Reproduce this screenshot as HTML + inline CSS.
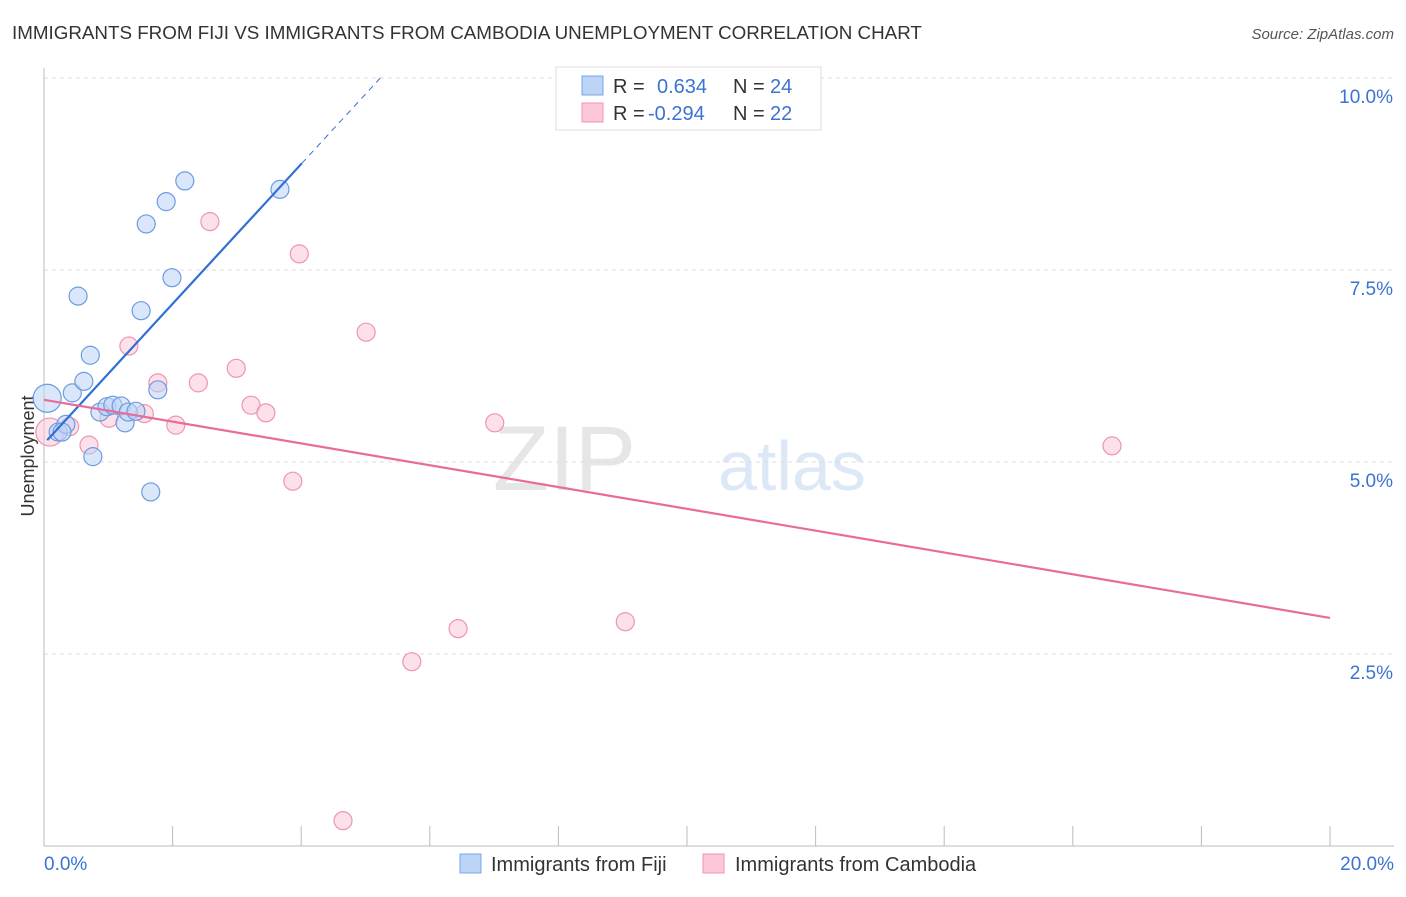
<!DOCTYPE html>
<html><head><meta charset="utf-8"><style>
body{margin:0;background:#fff;font-family:"Liberation Sans",sans-serif;}
svg text{font-family:"Liberation Sans",sans-serif;}
</style></head><body>
<svg id="chart" width="1406" height="892" viewBox="0 0 1406 892" xmlns="http://www.w3.org/2000/svg">
<text x="12" y="39" font-size="18.8" fill="#333">IMMIGRANTS FROM FIJI VS IMMIGRANTS FROM CAMBODIA UNEMPLOYMENT CORRELATION CHART</text>
<text x="1394" y="39" font-size="15" fill="#555" text-anchor="end" font-style="italic">Source: ZipAtlas.com</text>
<text x="636" y="490" font-size="92" fill="#e6e6e6" text-anchor="end" font-family="Liberation Serif">ZIP</text>
<text x="718" y="490" font-size="70" fill="#dde8f7">atlas</text>
<text transform="translate(34,456) rotate(-90)" font-size="18" fill="#333" text-anchor="middle">Unemployment</text>
<g id="grid"></g><g id="axes"></g><g id="marks"></g>
<g>
<rect x="556" y="67" width="265" height="63" fill="#fff" stroke="#ddd"/>
<rect x="582" y="76" width="21" height="19" fill="#bcd4f5" stroke="#7aa6e8"/>
<rect x="582" y="103" width="21" height="19" fill="#fcc8d8" stroke="#ee94b2"/>
<text x="613" y="93" font-size="20" fill="#333">R =</text><text x="657" y="93" font-size="20" fill="#3b73d1">0.634</text>
<text x="733" y="93" font-size="20" fill="#333">N =</text><text x="770" y="93" font-size="20" fill="#3b73d1">24</text>
<text x="613" y="120" font-size="20" fill="#333">R =</text><text x="648" y="120" font-size="20" fill="#3b73d1">-0.294</text>
<text x="733" y="120" font-size="20" fill="#333">N =</text><text x="770" y="120" font-size="20" fill="#3b73d1">22</text>
</g>
<g>
<rect x="460" y="854" width="21" height="19" fill="#bcd4f5" stroke="#7aa6e8"/>
<text x="491" y="871" font-size="20" fill="#333">Immigrants from Fiji</text>
<rect x="703" y="854" width="21" height="19" fill="#fcc8d8" stroke="#ee94b2"/>
<text x="735" y="871" font-size="20" fill="#333">Immigrants from Cambodia</text>
</g>
</svg>
<script>
const fijiX=[0.05,0.22,0.34,0.44,0.62,0.72,0.53,0.76,0.87,0.98,1.07,1.20,1.26,1.31,1.43,1.51,1.59,1.66,1.77,1.90,1.99,2.19,3.67,0.28];
const fijiY=[5.83,5.39,5.49,5.90,6.05,6.39,7.16,5.07,5.65,5.72,5.74,5.73,5.51,5.65,5.66,6.97,8.10,4.61,5.94,8.39,7.40,8.66,8.55,5.39];
const cambX=[0.09,0.40,0.70,1.01,1.32,1.56,1.77,2.05,2.40,2.58,2.99,3.22,3.45,3.87,3.97,4.65,5.01,5.72,6.44,7.01,9.04,16.61];
const cambY=[5.39,5.46,5.22,5.57,6.51,5.63,6.03,5.48,6.03,8.13,6.22,5.74,5.64,4.75,7.71,0.33,6.69,2.40,2.83,5.51,2.92,5.21];
const fijiTrend=[5.24,0.91]; // intercept, slope
const cambTrend=[5.81,-0.142];
const yTicks=[2.5,5.0,7.5,10.0];
const xTickVals=[0,2,4,6,8,10,12,14,16,18,20];
const NS='http://www.w3.org/2000/svg';
const sx=v=>44+v/20*1286, sy=v=>846-v/10*768;
function mk(t,a,p){const e=document.createElementNS(NS,t);for(const k in a)e.setAttribute(k,a[k]);p.appendChild(e);return e;}
const grid=document.getElementById('grid'),axes=document.getElementById('axes'),marks=document.getElementById('marks');
yTicks.forEach(v=>{
 const l=mk('line',{x1:44,x2:1394,y1:sy(v),y2:sy(v),stroke:'#ddd','stroke-dasharray':'4,4'},grid);
 
 
 const t=mk('text',{x:1393,y:sy(v)+25,'font-size':19,fill:'#3b73d1','text-anchor':'end'},axes);
 t.textContent=v.toFixed(1)+'%';
 
 
});
mk('line',{x1:44,x2:44,y1:68,y2:846,stroke:'#bbb'},axes);
mk('line',{x1:44,x2:1394,y1:846,y2:846,stroke:'#bbb'},axes);
xTickVals.forEach(v=>{const l=mk('line',{x1:sx(v),x2:sx(v),y1:826,y2:846,stroke:'#bbb'},axes);
 
 });
[[0,'0.0%','start',44],[20,'20.0%','end',1394]].forEach(d=>{const t=mk('text',{x:d[3],y:870,'font-size':19,fill:'#3b73d1','text-anchor':d[2]},axes);t.textContent=d[1];
 
 });
function dots(X,Y,fill,stroke,name){X.forEach((x,i)=>{const r=i===0?14:9;const c=mk('circle',{cx:sx(x),cy:sy(Y[i]),r:r,fill:fill,'fill-opacity':0.55,stroke:stroke,'stroke-width':1.2},marks);
 
 });}
dots(cambX,cambY,'#fcc8d8','#ee94b2','cambodia-point');
dots(fijiX,fijiY,'#bcd4f5','#6d9be0','fiji-point');
const fy=x=>fijiTrend[0]+fijiTrend[1]*x, cy=x=>cambTrend[0]+cambTrend[1]*x;
const tl=mk('line',{x1:sx(0.05),y1:sy(fy(0.05)),x2:sx(4.01),y2:sy(fy(4.01)),stroke:'#2f6fd6','stroke-width':2.2},marks);


const td=mk('line',{x1:sx(4.01),y1:sy(fy(4.01)),x2:sx(5.25),y2:sy(fy(5.25)),stroke:'#2f6fd6','stroke-width':1,'stroke-dasharray':'6,5'},marks);


const cl=mk('line',{x1:sx(0),y1:sy(cy(0)),x2:sx(20),y2:sy(cy(20)),stroke:'#e86c98','stroke-width':2.2},marks);


</script>
</body></html>
